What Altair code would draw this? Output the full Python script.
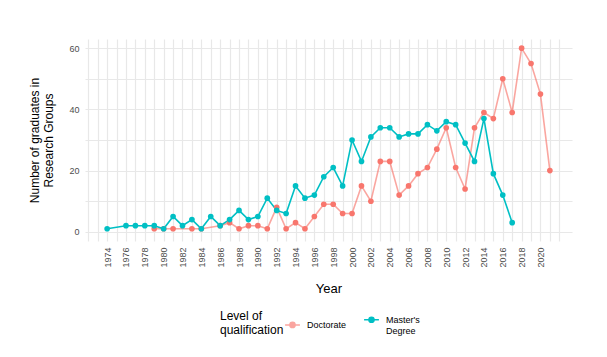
import altair as alt
import pandas as pd

doc_years = [1979, 1980, 1981, 1983, 1984, 1986, 1987, 1988, 1989, 1990, 1991, 1992, 1993, 1994,
             1995, 1996, 1997, 1998, 1999, 2000, 2001, 2002, 2003, 2004, 2005, 2006, 2007, 2008,
             2009, 2010, 2011, 2012, 2013, 2014, 2015, 2016, 2017, 2018, 2019, 2020, 2021]
doc_vals = [1, 1, 1, 1, 1, 2, 3, 1, 2, 2, 1, 8, 1, 3,
            1, 5, 9, 9, 6, 6, 15, 10, 23, 23, 12, 15, 19, 21,
            27, 34, 21, 14, 34, 39, 37, 50, 39, 60, 55, 45, 20]

ms_years = [1974, 1976, 1977, 1978, 1979, 1980, 1981, 1982, 1983, 1984, 1985, 1986, 1987, 1988,
            1989, 1990, 1991, 1992, 1993, 1994, 1995, 1996, 1997, 1998, 1999, 2000, 2001, 2002,
            2003, 2004, 2005, 2006, 2007, 2008, 2009, 2010, 2011, 2012, 2013, 2014, 2015, 2016, 2017]
ms_vals = [1, 2, 2, 2, 2, 1, 5, 2, 4, 1, 5, 2, 4, 7,
           4, 5, 11, 7, 6, 15, 11, 12, 18, 21, 15, 30, 23, 31,
           34, 34, 31, 32, 32, 35, 33, 36, 35, 29, 23, 37, 19, 12, 3]

series = ["Doctorate", "Master's Degree"]
colors = ["#F8766D", "#00BFC4"]

df = pd.concat([
    pd.DataFrame({"Year": doc_years, "Count": doc_vals, "Level": series[0]}),
    pd.DataFrame({"Year": ms_years, "Count": ms_vals, "Level": series[1]}),
])

x_ticks = list(range(1972, 2023))
y_ticks = list(range(0, 61, 10))
FONT = "Liberation Sans"
GRID = "#E8E8E8"

x_enc = alt.X("Year:Q",
              scale=alt.Scale(domain=[1971.65, 2023.35], nice=False, zero=False),
              axis=alt.Axis(values=x_ticks, format="d",
                            labelExpr="(datum.value % 2 == 0 && datum.value >= 1974 && datum.value <= 2020) ? datum.label : ''",
                            labelOverlap=False,
                            labelAngle=270, labelAlign="right", labelBaseline="middle",
                            labelPadding=6, labelFontSize=9, labelColor="#4D4D4D",
                            ticks=False, domain=False, grid=True, gridColor=GRID, gridWidth=1.2,
                            title="Year", titleFontSize=13, titleFontWeight="normal",
                            titleColor="#000000", titlePadding=15))
y_enc = alt.Y("Count:Q",
              scale=alt.Scale(domain=[-3, 63], nice=False, zero=False),
              axis=alt.Axis(values=y_ticks,
                            labelExpr="datum.value % 20 == 0 ? datum.label : ''",
                            labelOverlap=False,
                            labelFontSize=9, labelColor="#4D4D4D", labelPadding=6,
                            ticks=False, domain=False, grid=True, gridColor=GRID, gridWidth=1.2,
                            title=["Number of graduates in", "Research Groups"],
                            titleFontSize=12, titleFontWeight="normal",
                            titleColor="#000000", titlePadding=13))
color_enc = alt.Color("Level:N",
                      scale=alt.Scale(domain=series, range=colors),
                      legend=alt.Legend(title=["Level of", "qualification"],
                                        titleOrient="left", titleFontSize=12,
                                        titleFontWeight="normal", titleColor="#000000",
                                        titleBaseline="middle", titleAnchor="middle",
                                        titlePadding=0,
                                        orient="none", direction="horizontal",
                                        legendX=135, legendY=272,
                                        labelFontSize=9, labelColor="#000000",
                                        labelExpr="datum.label == \"Master's Degree\" ? [\"Master's\", 'Degree'] : datum.label",
                                        symbolType="M-1,0H1M-0.35,0A0.35,0.35,0,1,1,0.35,0A0.35,0.35,0,1,1,-0.35,0Z",
                                        symbolSize=220, symbolStrokeWidth=1.5,
                                        columnPadding=14, labelOffset=6))

base = alt.Chart(df).encode(x=x_enc, y=y_enc, color=color_enc)
lines = base.mark_line(strokeWidth=1.6).encode(
    opacity=alt.Opacity("Level:N", scale=alt.Scale(domain=series, range=[0.65, 1.0]), legend=None),
)
points = base.mark_circle(size=32, opacity=1)

chart = alt.layer(lines, points).properties(
    width=487, height=202,
    autosize=alt.AutoSizeParams(type="none"),
    padding={"left": 85, "top": 39, "right": 35, "bottom": 116},
).configure(font=FONT, background="white").configure_view(stroke=None, strokeWidth=0)

chart.save("out.html", embed_options={"renderer": "svg", "actions": False})
